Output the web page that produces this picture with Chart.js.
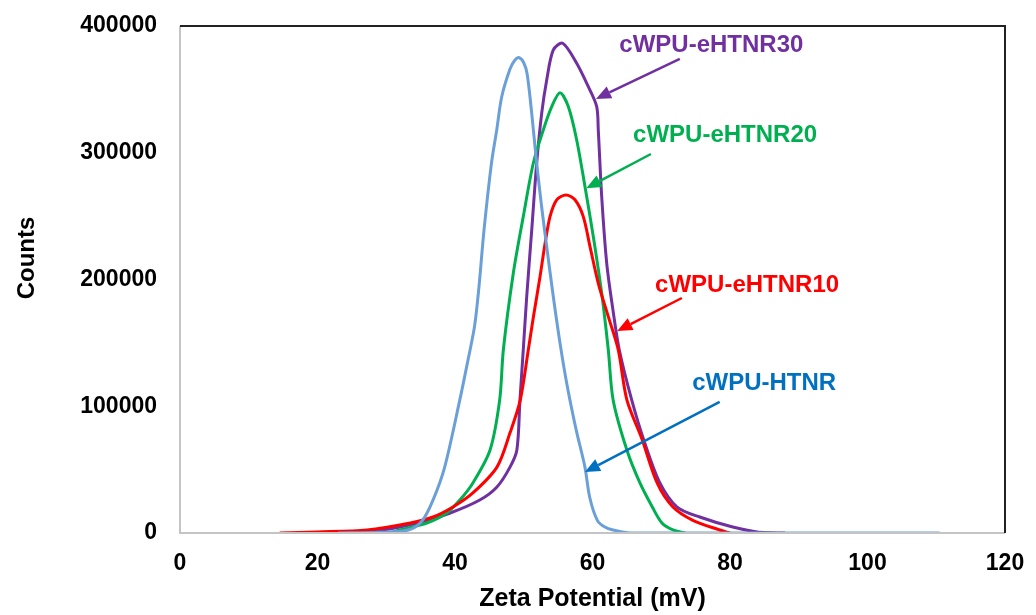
<!DOCTYPE html>
<html>
<head>
<meta charset="utf-8">
<script src="https://cdn.jsdelivr.net/npm/chart.js@4.4.0/dist/chart.umd.min.js"></script>
<style>
  html, body { margin: 0; padding: 0; background: #fff; }
</style>
</head>
<body>
<canvas id="zeta" width="1036" height="615"></canvas>
<script>
// axis ticks
var xTicks = [0, 20, 40, 60, 80, 100, 120];
var yTicks = [0, 100000, 200000, 300000, 400000];

// cWPU-HTNR
var htnrX = [23, 29, 33.2, 35.2, 36.8, 38.5, 40.7, 41.8, 42.84, 43.5, 44.22, 45.31, 46.07, 46.79, 48.0, 48.7, 49.35, 50.0, 50.5, 51.16, 51.88, 52.61, 53.34, 54.3, 55.27, 56.29, 57.6, 58.9, 59.6, 60.7, 61.8, 63, 65.5, 80, 95, 110.5];
var htnrY = [0, 500, 2400, 9500, 26000, 52000, 105000, 134000, 163000, 195000, 239000, 292000, 318000, 344000, 366000, 373000, 375000, 371000, 362000, 331100, 291700, 257000, 225900, 186400, 150000, 117000, 82000, 52000, 28000, 10000, 4700, 2400, 0, 0, 0, 0];

// cWPU-eHTNR10
var e10X = [14.5, 20, 27.2, 33.5, 36.8, 39.7, 42.6, 46.1, 48, 49.5, 50.66, 51.39, 52.36, 53.09, 53.82, 54.79, 56.15, 57.45, 58.66, 59.64, 60.84, 62.3, 63.75, 65, 67.2, 69.4, 71.7, 74.6, 78.5, 80];
var e10Y = [0, 800, 2400, 7900, 12600, 20500, 31600, 52000, 79000, 105000, 144400, 170000, 202000, 228000, 249600, 262900, 266700, 262900, 249600, 225900, 197000, 170700, 144400, 105000, 74000, 39500, 20500, 10000, 2400, 0];

// cWPU-eHTNR20
var e20X = [30.5, 32, 35.9, 38.8, 40.7, 42.6, 45.1, 46.5, 47.03, 48.48, 49.93, 51.39, 52.84, 54.07, 55.27, 56.48, 57.7, 58.91, 60.12, 61.34, 62.3, 63.0, 65.0, 66.9, 68.7, 70.1, 71.7, 73.5];
var e20Y = [0, 2400, 7900, 15800, 26000, 39500, 65500, 105000, 144400, 204900, 249600, 291700, 318000, 336400, 347400, 336400, 310100, 273200, 233800, 189100, 144400, 105000, 65500, 39500, 20500, 7900, 2400, 0];

// cWPU-eHTNR30
var e30X = [24, 29.5, 34.5, 39.3, 43.6, 46.1, 48, 49, 49.45, 49.93, 50.43, 51.16, 51.88, 52.61, 53.34, 54.3, 55.67, 57.7, 59.39, 60.61, 60.84, 61.34, 62.07, 63.0, 63.9, 65.7, 67.6, 69.8, 72.3, 75.6, 80.4, 84.4, 88];
var e30Y = [0, 2400, 7900, 15800, 26000, 36300, 52000, 65500, 105000, 144400, 186400, 239000, 291700, 331100, 357400, 381100, 386400, 370600, 352100, 336400, 318000, 265300, 212800, 175000, 144400, 105000, 71000, 39500, 20500, 12600, 4700, 500, 0];

// labels with arrows: text left/centre, arrow tail, arrow head (axis units)
var callouts = [
  { text: 'cWPU-eHTNR30', color: '#7030A0', tx: 63.9, ty: 385000, ax: [72.7, 374000], ah: [60.5, 342500] },
  { text: 'cWPU-eHTNR20', color: '#00B050', tx: 65.9, ty: 314000, ax: [68.5, 299000], ah: [59.1, 272000] },
  { text: 'cWPU-eHTNR10', color: '#FF0000', tx: 69.1, ty: 195700, ax: [73.0, 185400], ah: [63.6, 159400] },
  { text: 'cWPU-HTNR',    color: '#0070C0', tx: 74.5, ty: 118400, ax: [78.5, 103400], ah: [58.9, 48100] }
];

function pts(xs, ys) {
  return xs.map(function(x, i) { return { x: x, y: ys[i] }; });
}

function series(label, xs, ys, color, order) {
  return {
    label: label,
    data: pts(xs, ys),
    borderColor: color,
    backgroundColor: color,
    borderWidth: 3,
    pointRadius: 0,
    fill: false,
    tension: 0.3,
    order: order
  };
}

var FONT = '"Liberation Sans", Arial, sans-serif';

var decor = {
  id: 'decor',
  afterDatasetsDraw: function(chart) {
    var ctx = chart.ctx;
    var a = chart.chartArea;
    var sx = chart.scales.x, sy = chart.scales.y;
    ctx.save();
    // frame: grey axes, dark top/right
    ctx.lineWidth = 2;
    ctx.strokeStyle = '#c4c4c4';
    ctx.beginPath();
    ctx.moveTo(a.left, a.top);
    ctx.lineTo(a.left, a.bottom);
    ctx.lineTo(a.right, a.bottom);
    ctx.stroke();
    ctx.strokeStyle = '#222';
    ctx.beginPath();
    ctx.moveTo(a.left, a.top);
    ctx.lineTo(a.right, a.top);
    ctx.lineTo(a.right, a.bottom);
    ctx.stroke();

    // callouts
    ctx.font = 'bold 24px ' + FONT;
    ctx.textBaseline = 'middle';
    ctx.textAlign = 'left';
    callouts.forEach(function(c) {
      ctx.fillStyle = c.color;
      ctx.strokeStyle = c.color;
      ctx.fillText(c.text, sx.getPixelForValue(c.tx), sy.getPixelForValue(c.ty));
      var x1 = sx.getPixelForValue(c.ax[0]), y1 = sy.getPixelForValue(c.ax[1]);
      var x2 = sx.getPixelForValue(c.ah[0]), y2 = sy.getPixelForValue(c.ah[1]);
      var ang = Math.atan2(y2 - y1, x2 - x1);
      var hl = 15, hw = 6.5;
      var bx = x2 - hl * Math.cos(ang), by = y2 - hl * Math.sin(ang);
      ctx.lineWidth = 2.5;
      ctx.beginPath();
      ctx.moveTo(x1, y1);
      ctx.lineTo(bx, by);
      ctx.stroke();
      ctx.beginPath();
      ctx.moveTo(x2, y2);
      ctx.lineTo(bx + hw * Math.sin(ang), by - hw * Math.cos(ang));
      ctx.lineTo(bx - hw * Math.sin(ang), by + hw * Math.cos(ang));
      ctx.closePath();
      ctx.fill();
    });

    // y axis title
    ctx.fillStyle = '#000';
    ctx.font = 'bold 24px ' + FONT;
    ctx.textAlign = 'center';
    ctx.translate(27, 258);
    ctx.rotate(-Math.PI / 2);
    ctx.fillText('Counts', 0, 0);
    ctx.restore();
  }
};

new Chart(document.getElementById('zeta'), {
  type: 'line',
  data: {
    datasets: [
      series('cWPU-HTNR', htnrX, htnrY, '#6A9FD8', 1),
      series('cWPU-eHTNR10', e10X, e10Y, '#FF0000', 2),
      series('cWPU-eHTNR20', e20X, e20Y, '#00B050', 3),
      series('cWPU-eHTNR30', e30X, e30Y, '#7030A0', 4)
    ]
  },
  options: {
    responsive: false,
    animation: false,
    devicePixelRatio: 1,
    layout: { padding: { top: 26, right: 31, left: 0, bottom: 0 } },
    plugins: {
      legend: { display: false },
      tooltip: { enabled: false }
    },
    scales: {
      x: {
        type: 'linear',
        min: 0,
        max: 120,
        afterBuildTicks: function(s) { s.ticks = xTicks.map(function(v) { return { value: v }; }); },
        afterFit: function(s) { s.height = 82; s.paddingLeft = 0; s.paddingRight = 0; },
        grid: { display: false, drawTicks: false },
        border: { display: false },
        ticks: {
          padding: 17,
          maxRotation: 0,
          color: '#000',
          font: { family: FONT, size: 23, weight: 'bold' },
          callback: function(v) { return String(v); }
        },
        title: {
          display: true,
          text: 'Zeta Potential (mV)',
          color: '#000',
          padding: { top: 0, bottom: 1 },
          font: { family: FONT, size: 25, weight: 'bold' }
        }
      },
      y: {
        min: 0,
        max: 400000,
        afterBuildTicks: function(s) { s.ticks = yTicks.map(function(v) { return { value: v }; }); },
        afterFit: function(s) { s.width = 180; s.paddingTop = 0; s.paddingBottom = 0; },
        grid: { display: false, drawTicks: false },
        border: { display: false },
        ticks: {
          padding: 23,
          color: '#000',
          font: { family: FONT, size: 23, weight: 'bold' },
          callback: function(v) { return String(v); }
        }
      }
    }
  },
  plugins: [decor]
});
</script>
</body>
</html>
